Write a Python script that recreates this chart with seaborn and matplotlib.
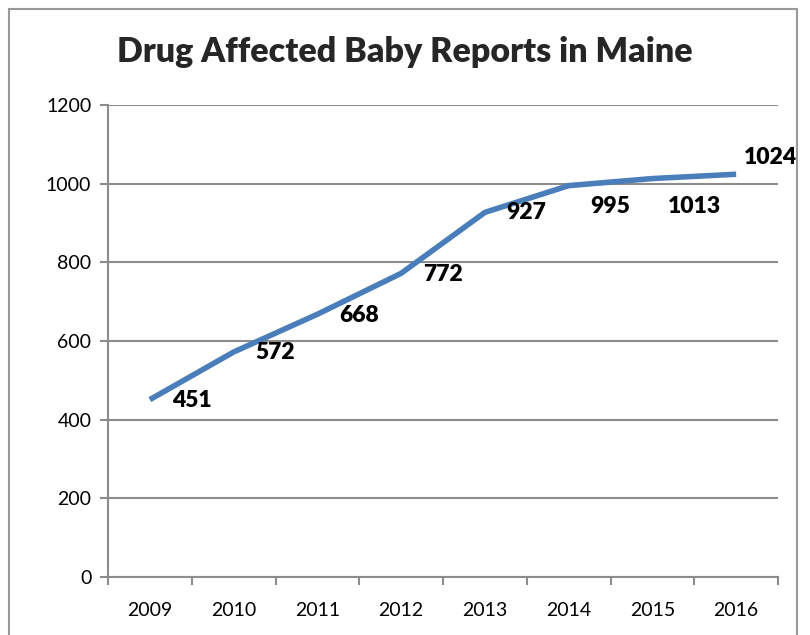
import matplotlib
matplotlib.use("Agg")
import matplotlib.pyplot as plt
import seaborn as sns
import pandas as pd
from matplotlib.patches import Rectangle

years = ["2009", "2010", "2011", "2012", "2013", "2014", "2015", "2016"]
reports = [451, 572, 668, 772, 927, 995, 1013, 1024]
title = "Drug Affected Baby Reports in Maine"

sns.set_theme(style="white")
plt.rcParams['font.family'] = ['Lato', 'DejaVu Sans']

df = pd.DataFrame({"idx": range(len(years)), "year": years, "reports": reports})

fig = plt.figure(figsize=(8.1, 6.35), dpi=100)
ax = fig.add_axes([108/810, 1 - 577/635, (778-108)/810, (577-105)/635])

sns.lineplot(data=df, x="idx", y="reports", ax=ax, color="#4A7EBB", linewidth=4,
             solid_capstyle="butt")

ax.set_xlim(-0.5, len(years) - 0.5)
ax.set_ylim(0, 1200)
ax.set_yticks(range(0, 1201, 200))
ax.set_xticks(range(len(years)))
ax.set_xticklabels(years)
ax.set_xticks([i - 0.5 for i in range(len(years) + 1)], minor=True)
ax.set_xlabel("")
ax.set_ylabel("")
ax.yaxis.grid(True, color="#8c8c8c", linewidth=1.5)
ax.xaxis.grid(False)
for s in ["top", "right"]:
    ax.spines[s].set_visible(False)
for s in ["left", "bottom"]:
    ax.spines[s].set_color("#8c8c8c")
    ax.spines[s].set_linewidth(1.5)
ax.tick_params(axis="y", which="major", left=True, length=6, width=1.5, color="#8c8c8c",
               labelsize=14, pad=6, labelcolor="black")
ax.tick_params(axis="x", which="major", bottom=False, labelsize=14, pad=12, labelcolor="black")
ax.tick_params(axis="x", which="minor", bottom=True, length=6, width=1.5, color="#8c8c8c")

offsets = [(30, -1), (30, 0), (30, -1), (30, -1), (30, 0), (30, -15), (30, -20), (25, 12)]
for i, (v, off) in enumerate(zip(reports, offsets)):
    ax.annotate(str(v), (i, v), xytext=off, textcoords="offset points",
                ha="center", va="center", fontsize=16.5, fontweight="heavy", color="black")

fig.text(405/810, 1 - 52/635, title, ha="center", va="center", fontsize=24.5, fontweight="heavy")

fig.patches.append(Rectangle((9/810, -0.1), (797-9)/810, 1.1 - 9/635, transform=fig.transFigure,
                             fill=False, edgecolor="#999999", linewidth=1.5))

fig.savefig("out.png", dpi=100, facecolor="white")
